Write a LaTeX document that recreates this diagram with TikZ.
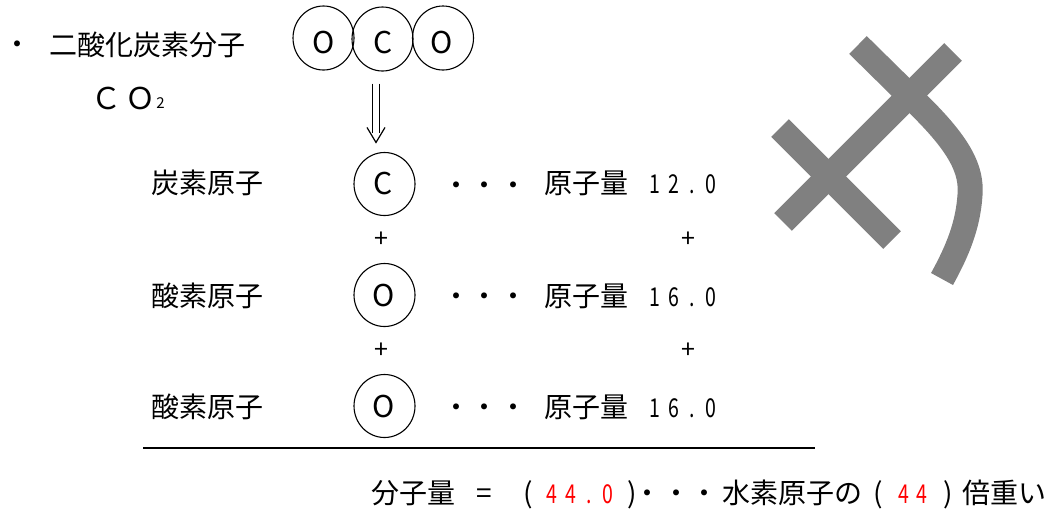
\documentclass[tikz,border=0pt]{standalone}
\usepackage{fontspec}
\setmainfont{Noto Sans CJK JP}
\newfontfamily\numfont[FakeStretch=0.75]{Noto Sans CJK JP}
\usetikzlibrary{shapes.geometric,calc}
\definecolor{stampgray}{RGB}{128,128,128}
\definecolor{ansred}{RGB}{255,0,0}
\newcommand\nd[1]{\makebox[18.7pt]{#1}}
\begin{document}
\begin{tikzpicture}[x=1pt,y=-1pt,
  txt/.style={inner sep=0pt, font=\fontsize{28}{28}\selectfont, text height=24.6pt, text depth=3.4pt},
  let/.style={inner sep=0pt, font=\fontsize{30}{30}\selectfont},
  num/.style={inner sep=0pt, font=\numfont\fontsize{26}{26}\selectfont, text height=22.9pt, text depth=3.1pt},
  mol/.style={ellipse, draw, line width=1.1pt, minimum width=61pt, minimum height=64pt, inner sep=0pt},
  atom/.style={ellipse, draw, line width=1.1pt, minimum width=61pt, minimum height=63pt, inner sep=0pt},
  sm/.style={inner sep=0pt, font=\fontsize{25}{25}\selectfont},
  stroke/.style={line width=25pt, stampgray}]
\useasboundingbox (0,0) rectangle (1049,509);

% top line
\node[txt] (bul) at (18,44) {・};
\node[txt, anchor=west] (co2name) at (49,45) {二酸化炭素分子};
\node[let] (fC) at (106,98) {Ｃ};
\node[let] (fO) at (140,98) {Ｏ};
\node[inner sep=0pt, font=\fontsize{15}{15}\selectfont] (f2) at (160.5,103) {2};

% molecule
\node[mol] (m1) at (323.5,38) {};
\node[mol] (m2) at (382.5,39) {};
\node[mol] (m3) at (443,38) {};
\node[let] (m1t) at (324,43) {O};
\node[let] (m2t) at (383,43) {C};
\node[let] (m3t) at (442,43) {O};

% atoms
\node[atom] (a1) at (384.5,184) {};
\node[atom] (a2) at (384.5,295) {};
\node[atom] (a3) at (384.5,406) {};
\node[let] (a1t) at (383.5,184) {C};
\node[let] (a2t) at (383.5,295.5) {O};
\node[let] (a3t) at (383.5,406.5) {O};

% double arrow
\coordinate (arS) at ($(m2.south)+(-6.5,12)$);
\coordinate (arT) at ($(a1.north)+(-8.5,-9.5)$);
\draw[line width=1.2pt] ($(arS)+(-3.3,0)$) -- ($(arT)+(-3.3,-9)$);
\draw[line width=1.2pt] ($(arS)+(3.3,0)$) -- ($(arT)+(3.3,-9)$);
\draw[line width=1.2pt] ($(arT)+(-9,-15)$) -- (arT) -- ($(arT)+(9,-15)$);

% labels
\node[txt, anchor=west] (l1) at (151,183) {炭素原子};
\node[txt, anchor=west] (l2) at (151,296) {酸素原子};
\node[txt, anchor=west] (l3) at (151,407) {酸素原子};

% dots
\foreach \r/\y in {1/185,2/296,3/407}{
  \node[txt] (d\r a) at (456,\y) {・};
  \node[txt] (d\r b) at (484,\y) {・};
  \node[txt] (d\r c) at (513,\y) {・};
}
\node[txt, anchor=west] (g1) at (544,183) {原子量};
\node[txt, anchor=west] (g2) at (544,296) {原子量};
\node[txt, anchor=west] (g3) at (544,407) {原子量};
\node[num, anchor=west] (n1) at (645.6,184) {\nd{1}\nd{2}\nd{.}\nd{0}};
\node[num, anchor=west] (n2) at (645.6,297) {\nd{1}\nd{6}\nd{.}\nd{0}};
\node[num, anchor=west] (n3) at (645.6,408) {\nd{1}\nd{6}\nd{.}\nd{0}};

% plus signs
\node[sm] (p1) at (381,240) {+};
\node[sm] (p2) at (688,240) {+};
\node[sm] (p3) at (381,351) {+};
\node[sm] (p4) at (688,351) {+};

% rule
\coordinate (ruleL) at (143,448);
\coordinate (ruleR) at (815,448);
\draw[line width=2.8pt] (ruleL) -- (ruleR);

% bottom line
\node[txt, anchor=west] (b1) at (371,493) {分子量};
\node[txt] (beq) at (484,493) {=};
\node[txt] (bp1) at (528,493) {(};
\node[num, anchor=west, text=ansred] (bn1) at (542.5,494) {\nd{4}\nd{4}\nd{.}\nd{0}};
\node[txt] (bp2) at (632,493) {)};
\node[txt] (bd1) at (647,493) {・};
\node[txt] (bd2) at (676,493) {・};
\node[txt] (bd3) at (704,493) {・};
\node[txt, anchor=west] (b2) at (722,493) {水素原子の};
\node[txt] (bp3) at (878,493) {(};
\node[num, anchor=west, text=ansred] (bn2) at (894,494) {\nd{4}\nd{4}};
\node[txt] (bp4) at (948,493) {)};
\node[txt, anchor=west] (b3) at (962,493) {倍重い};

% stamp mark
\draw[stroke] (783,222) -- (953,52);
\draw[stroke] (780,128) -- (892,240);
\draw[stroke] (858,45) -- (922,108) .. controls (960,146) and (972,170) .. (970,195) .. controls (968,225) and (958,250) .. (942,279);
\end{tikzpicture}
\end{document}
